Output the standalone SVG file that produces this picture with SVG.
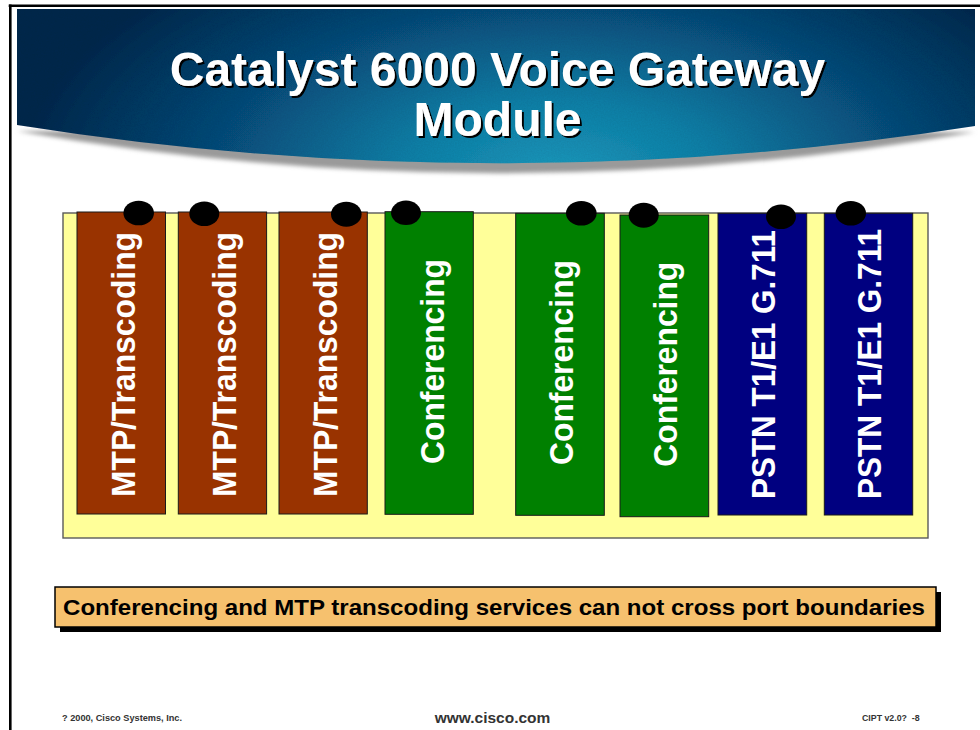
<svg xmlns="http://www.w3.org/2000/svg" width="980" height="730" viewBox="0 0 980 730">
  <style>
    .card { stroke: #1a1a1a; stroke-width: 1; }
    .mtp { fill: #993300; }
    .conf { fill: #008000; }
    .pstn { fill: #000080; }
    .lbl { font-family: "Liberation Sans", Arial, sans-serif; font-weight: bold; font-size: 34px; fill: #ffffff; }
    .dot { fill: #000000; }
    .title { font-family: "Liberation Sans", Arial, sans-serif; font-weight: bold; font-size: 48px; text-anchor: middle; fill: #ffffff; }
    .foot { font-family: "Liberation Sans", Arial, sans-serif; font-weight: bold; fill: #333333; }
  </style>
  <defs>
    <radialGradient id="bannerGrad" gradientUnits="userSpaceOnUse" cx="560" cy="180" r="540" gradientTransform="translate(0,180) scale(1,0.5) translate(0,-180)">
      <stop offset="0" stop-color="#1f9cc0"/>
      <stop offset="0.3" stop-color="#1680a8"/>
      <stop offset="0.65" stop-color="#114c7a"/>
      <stop offset="1" stop-color="#0b2a4e"/>
    </radialGradient>
    <filter id="blur2" x="-5%" y="-20%" width="110%" height="140%">
      <feGaussianBlur stdDeviation="2"/>
    </filter>
    <filter id="tex" x="0" y="0" width="100%" height="100%">
      <feTurbulence type="fractalNoise" baseFrequency="0.7" numOctaves="2" seed="3" result="n"/>
      <feColorMatrix in="n" type="matrix" values="0 0 0 0 0  0 0 0 0 0  0 0 0 0 0  0 0 0 0.16 0" result="d"/>
      <feComposite in="d" in2="SourceGraphic" operator="in" result="dt"/>
      <feMerge><feMergeNode in="SourceGraphic"/><feMergeNode in="dt"/></feMerge>
    </filter>
    <filter id="tshadow" x="-5%" y="-20%" width="110%" height="140%">
      <feDropShadow dx="2" dy="2" stdDeviation="0.4" flood-color="#000000" flood-opacity="1"/>
    </filter>
  </defs>

  <rect x="0" y="0" width="980" height="730" fill="#ffffff"/>

  <!-- page frame -->
  <g id="frame" stroke="#000000" stroke-width="2.6" fill="none">
    <line x1="8.7" y1="5.8" x2="980" y2="5.8"/>
    <line x1="10.3" y1="4.5" x2="10.3" y2="730"/>
  </g>

  <!-- title banner -->
  <g id="banner">
    <path d="M17,131 L975,132 Q496,215 17,131 Z" fill="#9a9a9a" filter="url(#blur2)"/>
    <path d="M17,9 L975,9 L975,126 Q496,201 17,125 Z" fill="url(#bannerGrad)" filter="url(#tex)"/>
    <g class="title" filter="url(#tshadow)">
      <text x="497.5" y="86">Catalyst 6000 Voice Gateway</text>
      <text x="497.5" y="136">Module</text>
    </g>
  </g>

  <!-- module panel -->
  <g id="panel">
    <rect x="63" y="213" width="865" height="325" fill="#ffff99" stroke="#5a5a5a" stroke-width="1.4"/>
  </g>

  <g id="connectors"/>

  <g id="card1">
    <rect class="card mtp" x="77" y="212" width="88.5" height="302"/>
    <text class="lbl" transform="translate(134.7,497) rotate(-90)" textLength="265" lengthAdjust="spacingAndGlyphs">MTP/Transcoding</text>
    <ellipse class="dot" cx="138.7" cy="213" rx="15.3" ry="12.3"/>
  </g>
  <g id="card2">
    <rect class="card mtp" x="178.3" y="212" width="88.3" height="302"/>
    <text class="lbl" transform="translate(235.7,497) rotate(-90)" textLength="265" lengthAdjust="spacingAndGlyphs">MTP/Transcoding</text>
    <ellipse class="dot" cx="204.3" cy="213.8" rx="15" ry="12.3"/>
  </g>
  <g id="card3">
    <rect class="card mtp" x="279" y="212" width="88.3" height="302"/>
    <text class="lbl" transform="translate(336.8,497) rotate(-90)" textLength="265" lengthAdjust="spacingAndGlyphs">MTP/Transcoding</text>
    <ellipse class="dot" cx="346.3" cy="214.2" rx="15.3" ry="12.5"/>
  </g>
  <g id="card4">
    <rect class="card conf" x="385" y="211.7" width="88.3" height="302.6"/>
    <text class="lbl" transform="translate(443.5,464) rotate(-90)" textLength="205" lengthAdjust="spacingAndGlyphs">Conferencing</text>
    <ellipse class="dot" cx="406" cy="212.8" rx="15" ry="12.2"/>
  </g>
  <g id="card5">
    <rect class="card conf" x="515.7" y="213.3" width="88.6" height="302"/>
    <text class="lbl" transform="translate(572.6,465) rotate(-90)" textLength="205" lengthAdjust="spacingAndGlyphs">Conferencing</text>
    <ellipse class="dot" cx="581.3" cy="213.3" rx="15.3" ry="12.3"/>
  </g>
  <g id="card6">
    <rect class="card conf" x="620" y="215" width="88.7" height="301.7"/>
    <text class="lbl" transform="translate(676.5,466.7) rotate(-90)" textLength="205" lengthAdjust="spacingAndGlyphs">Conferencing</text>
    <ellipse class="dot" cx="643.7" cy="215.2" rx="15" ry="12.5"/>
  </g>
  <g id="card7">
    <rect class="card pstn" x="718" y="213.3" width="88.7" height="301.7"/>
    <text class="lbl" transform="translate(774.5,499) rotate(-90)" textLength="269" lengthAdjust="spacingAndGlyphs">PSTN T1/E1 G.711</text>
    <ellipse class="dot" cx="781" cy="216.7" rx="15" ry="12.3"/>
  </g>
  <g id="card8">
    <rect class="card pstn" x="824.3" y="213.3" width="88.4" height="301.7"/>
    <text class="lbl" transform="translate(880.9,499) rotate(-90)" textLength="270" lengthAdjust="spacingAndGlyphs">PSTN T1/E1 G.711</text>
    <ellipse class="dot" cx="850.8" cy="213.3" rx="15.2" ry="12.3"/>
  </g>

  <!-- note banner -->
  <g id="note">
    <rect x="60" y="592" width="881" height="40" fill="#000000"/>
    <rect x="55" y="587" width="881" height="40" fill="#f6c16e" stroke="#000000" stroke-width="1.5"/>
    <text x="63" y="615" font-family="'Liberation Sans', Arial, sans-serif" font-weight="bold" font-size="21.5" fill="#000000" textLength="862" lengthAdjust="spacingAndGlyphs">Conferencing and MTP transcoding services can not cross port boundaries</text>
  </g>

  <!-- footer -->
  <g id="footer">
    <text class="foot" x="62" y="721" font-size="9.2">? 2000, Cisco Systems, Inc.</text>
    <text class="foot" x="492.5" y="723" font-size="15.5" text-anchor="middle" fill="#444444">www.cisco.com</text>
    <text class="foot" x="862" y="721" font-size="8.8" xml:space="preserve">CIPT v2.0?  -8</text>
  </g>
</svg>
